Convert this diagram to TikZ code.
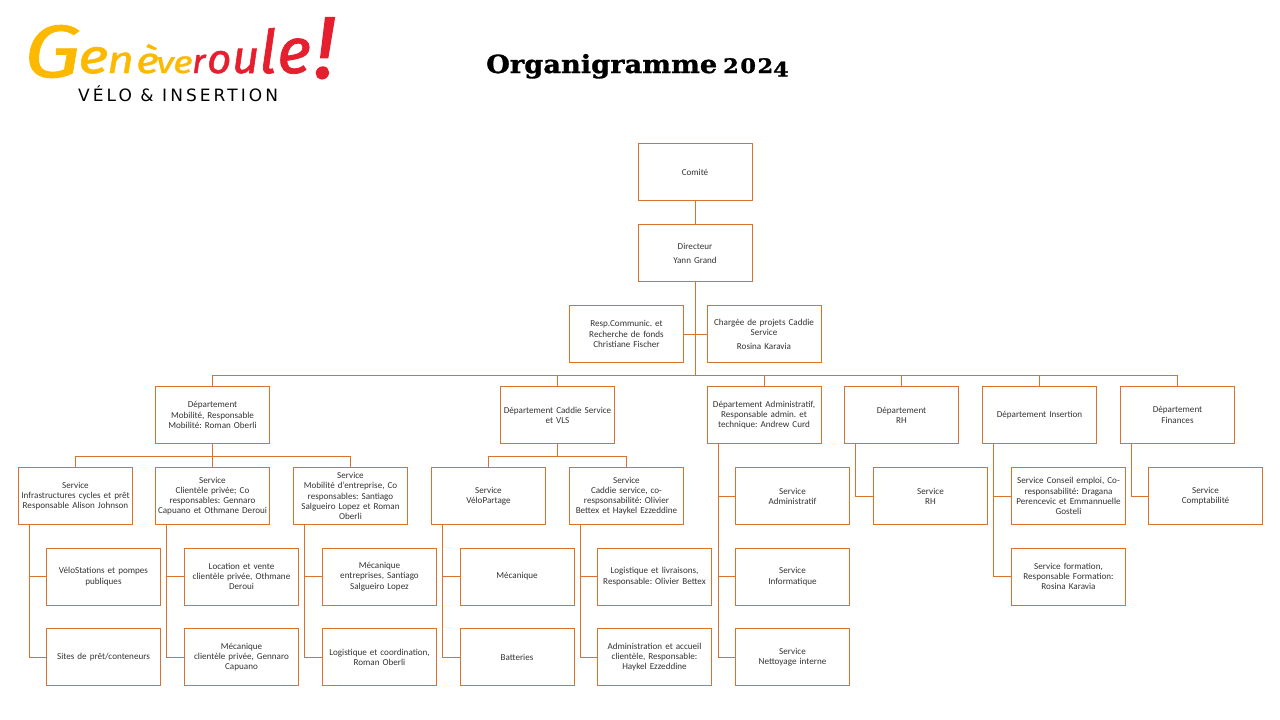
\documentclass[tikz,border=0pt]{standalone}
\usepackage{fontspec}
\setmainfont{Carlito}
\newfontfamily\logofont{Fira Sans}[FakeStretch=1.22,FakeBold=1.2]
\newfontfamily\logorouge{Fira Sans}[FakeStretch=1.02,FakeBold=1.2]
\newfontfamily\slogan{DejaVu Sans}[LetterSpace=18]
\newfontfamily\titlefont{DejaVu Serif}[FakeStretch=1.09,FakeBold=1.2]
\newfontfamily\titlechiffres{DejaVu Serif}[FakeStretch=1.12,FakeBold=1.2,LetterSpace=8]
\definecolor{traitorange}{HTML}{D9722C}
\definecolor{geneveyellow}{HTML}{FDB900}
\definecolor{genevered}{HTML}{E51F2D}
\definecolor{textegris}{HTML}{333333}
% couleur, taille, avance, hauteur, lettre
\newcommand{\lettrelogo}[5]{\makebox[#3pt][l]{\raisebox{#4pt}{\textcolor{#1}{\fontsize{#2}{#2}\selectfont #5}}}}
\tikzset{
	boite/.style={draw=traitorange,line width=1pt,rectangle,minimum width=114pt,minimum height=57pt,inner sep=1pt,text width=112pt,align=center,text=textegris,font=\frenchspacing\fontsize{9.1}{10.2}\selectfont},
	lien/.style={draw=traitorange,line width=1pt}
}
\begin{document}
\begin{tikzpicture}[x=1pt,y=-1pt]
	\useasboundingbox (0,0) rectangle (1280,720);
	% logo
	\node[inner sep=0pt,anchor=base west,font=\logofont\itshape] (logo) at (24,77) {%
		\lettrelogo{geneveyellow}{74}{54}{0}{G}%
		\lettrelogo{geneveyellow}{48}{29}{4}{e}%
		\lettrelogo{geneveyellow}{38}{29}{4}{n}%
		\lettrelogo{geneveyellow}{36}{20}{4}{è}%
		\lettrelogo{geneveyellow}{30}{17}{4}{v}%
		\lettrelogo{geneveyellow}{31}{19}{4}{e}%
		\lettrelogo{genevered}{34}{15}{4}{\logorouge\itshape r}%
		\lettrelogo{genevered}{41}{25}{4}{\logorouge\itshape o}%
		\lettrelogo{genevered}{46}{27}{4}{\logorouge\itshape u}%
		\lettrelogo{genevered}{60}{18}{4}{\logorouge\itshape l}%
		\lettrelogo{genevered}{64}{37}{4}{\logorouge\itshape e}%
		\lettrelogo{genevered}{88}{24}{-1}{\logorouge\itshape !}};
	\node[inner sep=0pt,anchor=base west] (soustitre) at (78,101) {\slogan\fontsize{17}{17}\selectfont VÉLO \& INSERTION};
	\node[inner sep=0pt,anchor=base west] (titre) at (486,73) {\titlefont\bfseries\fontsize{25}{25}\selectfont Organigramme};
	\node[inner sep=0pt,anchor=base west] (annee) at (723,73) {\titlechiffres\bfseries\fontsize{20}{20}\selectfont 202\raisebox{-3.5pt}{4}};
	% haut
	\node[boite] (comite) at (695,172) {Comité};
	\node[boite] (dir) at (695,253) {Directeur\\[3.8pt]Yann Grand};
	\node[boite] (comm) at (626.5,334) {Resp.Communic. et\\Recherche de fonds\\Christiane Fischer};
	\node[boite] (proj) at (764,334) {Chargée de projets Caddie\\Service\\[3.8pt]Rosina Karavia};
	% departements
	\node[boite] (dA) at (212.5,415) {Département\\Mobilité, Responsable\\Mobilité: Roman Oberli};
	\node[boite] (dB) at (557.5,415) {Département Caddie Service\\et VLS};
	\node[boite] (dC) at (764,415) {Département Administratif,\\Responsable admin. et\\technique: Andrew Curd};
	\node[boite] (dD) at (901.5,415) {Département\\RH};
	\node[boite] (dE) at (1039.5,415) {Département Insertion};
	\node[boite] (dF) at (1177.5,415) {Département\\Finances};
	% services
	\node[boite] (sA) at (75.5,496) {Service\\Infrastructures cycles et prêt\\Responsable Alison Johnson};
	\node[boite] (sB) at (212.5,496) {Service\\Clientèle privée; Co\\responsables: Gennaro\\Capuano et Othmane Deroui};
	\node[boite] (sC) at (350.5,496) {Service\\Mobilité d'entreprise, Co\\responsables: Santiago\\Salgueiro Lopez et Roman\\Oberli};
	\node[boite] (sD) at (488.5,496) {Service\\VéloPartage};
	\node[boite] (sE) at (626.5,496) {Service\\Caddie service, co-\\respsonsabilité: Olivier\\Bettex et Haykel Ezzeddine};
	\node[boite] (sF) at (792.5,496) {Service\\Administratif};
	\node[boite] (sG) at (930.5,496) {Service\\RH};
	\node[boite] (sH) at (1068.5,496) {Service Conseil emploi, Co-\\responsabilité: Dragana\\Perencevic et Emmannuelle\\Gosteli};
	\node[boite] (sI) at (1205.5,496) {Service\\Comptabilité};
	% rangee 3
	\node[boite] (aA) at (103.5,576.5) {VéloStations et pompes\\publiques};
	\node[boite] (aB) at (241.5,576.5) {Location et vente\\clientèle privée, Othmane\\Deroui};
	\node[boite] (aC) at (379.5,576.5) {Mécanique\\entreprises, Santiago\\Salgueiro Lopez};
	\node[boite] (aD) at (517,576.5) {Mécanique};
	\node[boite] (aE) at (654.5,576.5) {Logistique et livraisons,\\Responsable: Olivier Bettex};
	\node[boite] (aF) at (792.5,576.5) {Service\\Informatique};
	\node[boite] (aH) at (1068.5,576.5) {Service formation,\\Responsable Formation:\\Rosina Karavia};
	% rangee 4
	\node[boite] (bA) at (103.5,657) {Sites de prêt/conteneurs};
	\node[boite] (bB) at (241.5,657) {Mécanique\\clientèle privée, Gennaro\\Capuano};
	\node[boite] (bC) at (379.5,657) {Logistique et coordination,\\Roman Oberli};
	\node[boite] (bD) at (517,657) {Batteries};
	\node[boite] (bE) at (654.5,657) {Administration et accueil\\clientèle, Responsable:\\Haykel Ezzeddine};
	\node[boite] (bF) at (792.5,657) {Service\\Nettoyage interne};
	% liens
	\draw[lien] (comite) -- (dir);
	\coordinate (bus) at (695,375);
	\draw[lien] (dir.south) -- (bus);
	\draw[lien] (dir.south) |- (comm.east);
	\draw[lien] (dir.south) |- (proj.west);
	\foreach \d in {dA,dB,dC,dD,dE,dF}
		\draw[lien] (bus) -| (\d.north);
	\foreach \s in {sA,sB,sC}
		\draw[lien] (dA.south) -- ++(0,12) -| (\s.north);
	\foreach \s in {sD,sE}
		\draw[lien] (dB.south) -- ++(0,12) -| (\s.north);
	\foreach \p/\e in {sA/aA,sA/bA,sB/aB,sB/bB,sC/aC,sC/bC,sD/aD,sD/bD,sE/aE,sE/bE,dC/sF,dC/aF,dC/bF,dD/sG,dE/sH,dE/aH,dF/sI}
		\draw[lien] ([xshift=11.5pt]\p.south west) |- (\e.west);
\end{tikzpicture}
\end{document}
